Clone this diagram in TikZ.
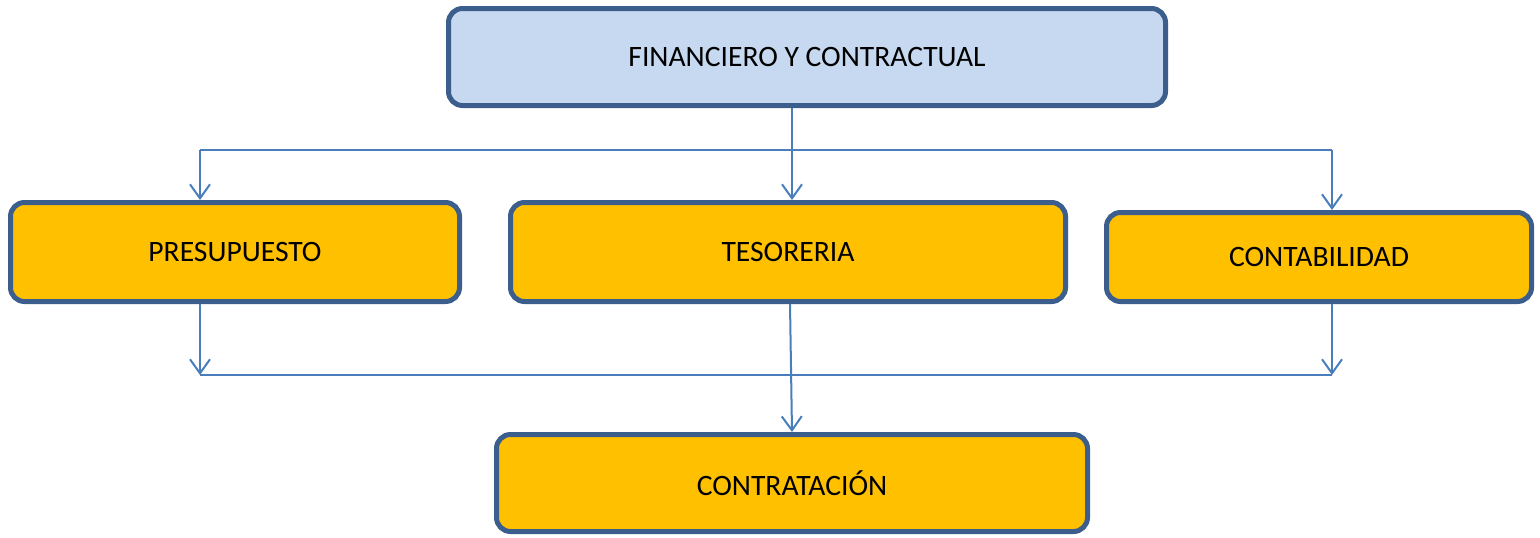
\documentclass[tikz,border=0pt]{standalone}
\usepackage{fontspec}
\setmainfont{Carlito}
\usepackage{xcolor}
\usetikzlibrary{arrows.meta,calc,positioning}
\definecolor{boxline}{HTML}{3B5E8C}
\definecolor{topfill}{HTML}{C6D9F1}
\definecolor{subfill}{HTML}{FFC000}
\definecolor{leadblue}{HTML}{4A7EBB}

\begin{document}
\begin{tikzpicture}[x=0.5pt, y=-0.5pt,
    box/.style={draw=boxline, line width=2.5pt, rounded corners=7pt, inner sep=0pt,
        font=\fontsize{14.8}{17}\selectfont, text=black},
    lead/.style={draw=leadblue, line width=1pt},
    tip/.style={lead, -{Straight Barb[length=7pt, width=10pt, line width=1pt]}}]
                        \useasboundingbox (0, 0) rectangle (1540, 537);
                        % boxes
                        \node[box, fill=topfill, minimum width=358.5pt, minimum height=48.5pt] (fin) at (807, 57) {FINANCIERO Y CONTRACTUAL};
                        \node[box, fill=subfill, minimum width=224.5pt, minimum height=49.5pt] (pre) at (235, 252) {PRESUPUESTO};
                        \node[box, fill=subfill, minimum width=277.5pt, minimum height=49.5pt] (tes) at (788, 252) {TESORERIA};
                        \node[box, fill=subfill, minimum width=212.5pt, minimum height=44.5pt] (cnt) at (1319, 257) {CONTABILIDAD};
                        \node[box, fill=subfill, minimum width=295.5pt, minimum height=48.5pt] (ctr) at (792, 483) {CONTRATACIÓN};
                        % bus corners
                        \coordinate (upL) at (200, 150);
                        \coordinate (upM) at (792, 150);
                        \coordinate (upR) at (1332, 150);
                        \coordinate (loL) at (200, 375);
                        \coordinate (loR) at (1332, 375);
                        % upper bus
                        \draw[lead, line width=0.8pt] (upL) -- (upR);
                        \draw[tip] (upM |- fin.south) -- (upM |- tes.north);
                        \draw[tip] (upL) -- (upL |- pre.north);
                        \draw[tip] (upR) -- (upR |- cnt.north);
                        % lower bus
                        \draw[lead, line width=0.8pt] (loL) -- (loR);
                        \draw[tip] (loL |- pre.south) -- (loL);
                        \draw[tip] (loR |- cnt.south) -- (loR);
                        \draw[tip] ([xshift=1pt]tes.south) -- (ctr.north);
                    \end{tikzpicture}
\end{document}
